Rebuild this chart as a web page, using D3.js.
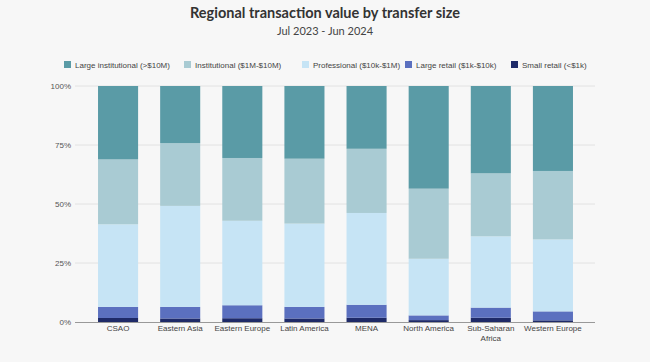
<!DOCTYPE html>
<html><head><meta charset="utf-8">
<script src="https://cdn.jsdelivr.net/npm/d3@7"></script>
<style>body{margin:0;background:#f7f7f7;}svg{display:block;}</style>
</head><body>
<svg id="c" width="650" height="362"></svg>
<script>
const regions = ["CSAO","Eastern Asia","Eastern Europe","Latin America","MENA","North America","Sub-Saharan Africa","Western Europe"];
const seriesNames = ["Small retail (<$1k)","Large retail ($1k-$10k)","Professional ($10k-$1M)","Institutional ($1M-$10M)","Large institutional (>$10M)"];
const smallRetail = [1.7, 1.5, 1.6, 1.5, 1.8, 0.8, 1.8, 0.7];
const largeRetail = [4.7, 4.9, 5.5, 4.9, 5.5, 2.0, 4.3, 3.8];
const professional = [35.0, 42.8, 35.8, 35.3, 38.9, 24.0, 30.2, 30.5];
const institutional = [27.5, 26.6, 26.6, 27.5, 27.2, 29.7, 26.7, 29.0];
const largeInstitutional = [31.1, 24.2, 30.5, 30.8, 26.6, 43.5, 37.0, 36.0];
const yTicks = [0, 25, 50, 75, 100];
const legendOrder = [4,3,2,1,0];
const colors = ["#1e2a68","#5b70bf","#c6e4f5","#a9cbd3","#5a9ba6"];

const svg = d3.select("#c");
const W = 650, H = 362;
svg.append("rect").attr("width",W).attr("height",H).attr("fill","#f7f7f7");

const seriesVals = [smallRetail, largeRetail, professional, institutional, largeInstitutional];
const rows = regions.map((r,i)=>{ const o={region:r}; seriesNames.forEach((s,k)=>o[s]=seriesVals[k][i]); return o;});
const stacked = d3.stack().keys(seriesNames)(rows);

const x = d3.scaleBand().domain(regions).range([87,584]).paddingInner(0.355).paddingOuter(0.1775);
const y = d3.scaleLinear().domain([0,100]).range([322,86]);

// title
svg.append("text").attr("x",325).attr("y",18).attr("text-anchor","middle")
  .attr("font-family","Lato, 'Open Sans', sans-serif").attr("font-weight","bold").attr("font-size",14.5).attr("fill","#333")
  .text("Regional transaction value by transfer size");
svg.append("text").attr("x",325).attr("y",35).attr("text-anchor","middle")
  .attr("font-family","Lato, 'Open Sans', sans-serif").attr("font-size",11).attr("fill","#444")
  .text("Jul 2023 - Jun 2024");

// grid
const g = svg.append("g");
g.selectAll("line.grid").data(yTicks.filter(d=>d>0)).join("line")
  .attr("x1",75).attr("x2",595).attr("y1",d=>y(d)).attr("y2",d=>y(d))
  .attr("stroke","#e2e2e2").attr("stroke-width",1);

// y axis labels
const yAxis = d3.axisLeft(y).tickValues(yTicks).tickFormat(d=>d+"%").tickSize(0).tickPadding(0);
const ya = svg.append("g").attr("transform","translate(71,0)").call(yAxis);
ya.select(".domain").remove();
ya.selectAll("text").attr("font-family","'Liberation Sans', Arial, sans-serif").attr("font-size",8).attr("fill","#555");

// bars
svg.append("g").selectAll("g").data(stacked).join("g")
  .attr("fill",(d,i)=>colors[i])
  .selectAll("rect").data(d=>d).join("rect")
  .attr("x",d=>x(d.data.region)).attr("width",x.bandwidth())
  .attr("y",d=>y(d[1])).attr("height",d=>y(d[0])-y(d[1]));

// x axis
svg.append("line").attr("x1",75).attr("x2",595).attr("y1",y(0)+0.5).attr("y2",y(0)+0.5).attr("stroke","#999").attr("stroke-width",1);
const xAxis = d3.axisBottom(x).tickSize(0).tickPadding(0);
const xa = svg.append("g").attr("transform",`translate(0,${y(0)+3})`).call(xAxis);
xa.select(".domain").remove();
xa.selectAll("text").attr("font-family","'Liberation Sans', Arial, sans-serif").attr("font-size",8).attr("fill","#444")
  .each(function(d){
    const t = d3.select(this);
    if(d==="Sub-Saharan Africa"){
      t.text(null);
      t.append("tspan").attr("x",0).attr("dy","0.71em").text("Sub-Saharan");
      t.append("tspan").attr("x",0).attr("dy","1.35em").text("Africa");
      t.attr("dy",null);
    }
  });

// legend
const legendX = [64, 184, 302, 405, 511];
const lg = svg.append("g").attr("transform","translate(0,65)");
const items = lg.selectAll("g").data(legendOrder).join("g").attr("transform",(d,i)=>`translate(${legendX[i]},0)`);
items.append("rect").attr("x",0).attr("y",-4).attr("width",7).attr("height",7).attr("fill",d=>colors[d]);
items.append("text").attr("x",11).attr("y",2.5).attr("font-family","'Liberation Sans', Arial, sans-serif").attr("font-size",8).attr("fill","#444")
  .text(d=>seriesNames[d]);
</script>
</body></html>
